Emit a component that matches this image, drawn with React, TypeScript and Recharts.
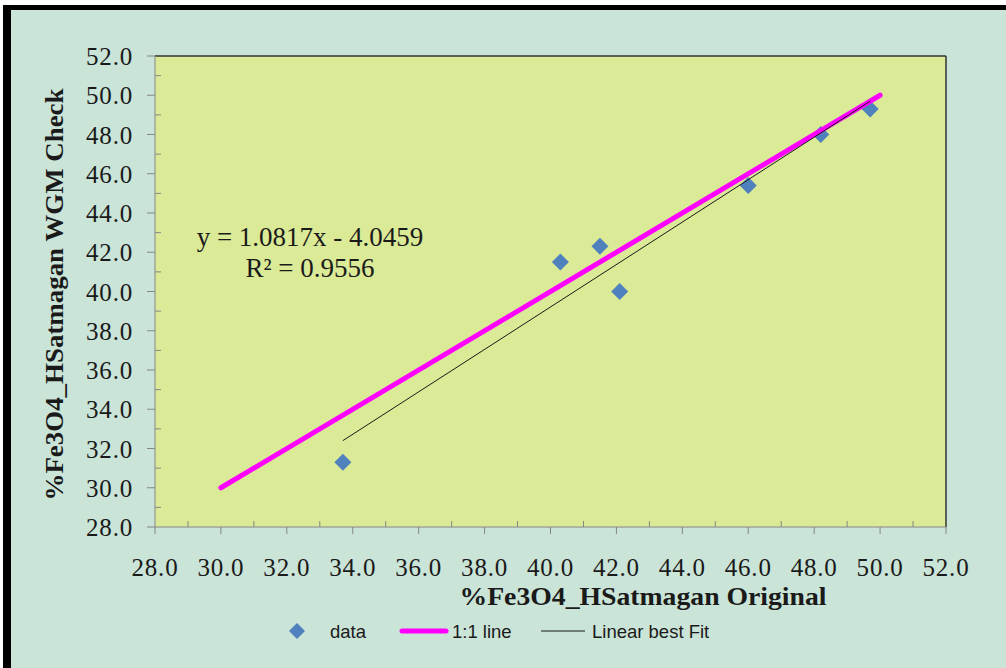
import { ScatterChart, Scatter, XAxis, YAxis, ReferenceArea, ReferenceLine, Label } from "recharts"

// measured values
const dataX = [33.7, 40.3, 41.5, 42.1, 46.0, 48.2, 49.7]
const dataY = [31.3, 41.5, 42.3, 40.0, 45.4, 48.0, 49.3]
const oneToOneX = [30, 50]
const oneToOneY = [30, 50]
const fitX = [33.7, 49.7]
const fitY = [32.4, 49.7]
const axisTicks = [28, 29, 30, 31, 32, 33, 34, 35, 36, 37, 38, 39, 40, 41, 42, 43, 44, 45, 46, 47, 48, 49, 50, 51, 52]

const points = dataX.map((x, i) => ({ x, y: dataY[i] }))
const oneToOne = oneToOneX.map((x, i) => ({ x, y: oneToOneY[i] }))
const fit = fitX.map((x, i) => ({ x, y: fitY[i] }))

const serif = "'Liberation Serif', 'Times New Roman', serif"
const sans = "'Liberation Sans', Arial, sans-serif"
const axisGrey = "#868686"

const XTick = (props: any) => {
  const { x, y, payload } = props
  const v = payload.value
  const major = v % 2 === 0
  return (
    <g>
      <line x1={x} x2={x} y1={major ? y : y - 6} y2={major ? y + 7 : y} stroke={axisGrey} />
      {major && (
        <text x={x} y={y + 49} textAnchor="middle" fontFamily={serif} fontSize={25} letterSpacing={0.8} fill="#1a1a1a">
          {v.toFixed(1)}
        </text>
      )}
    </g>
  )
}

const YTick = (props: any) => {
  const { x, y, payload } = props
  const v = payload.value
  const major = v % 2 === 0
  return (
    <g>
      <line x1={major ? x - 8 : x} x2={major ? x : x + 6} y1={y} y2={y} stroke={axisGrey} />
      {major && (
        <text x={x - 22} y={y + 9} textAnchor="end" fontFamily={serif} fontSize={25} letterSpacing={0.8} fill="#1a1a1a">
          {v.toFixed(1)}
        </text>
      )}
    </g>
  )
}

const Diamond = (props: any) => {
  const { cx, cy } = props
  const r = 8.5
  return <polygon points={`${cx},${cy - r} ${cx + r},${cy} ${cx},${cy + r} ${cx - r},${cy}`} fill="#4F81BD" />
}

const Empty = () => <g />

const App = () => {
  return (
    <div style={{ position: "absolute", left: 0, top: 0, width: 1006, height: 668, background: "#fff", overflow: "hidden" }}>
      <div
        style={{
          position: "absolute",
          left: 3,
          top: 5,
          width: 1006,
          height: 668,
          background: "#CAE4D8",
          borderTop: "5px solid #000",
          borderLeft: "8px solid #000",
        }}
      />
      <div style={{ position: "absolute", left: 0, top: 0 }}>
        <ScatterChart width={1006} height={668} margin={{ top: 56, right: 60, bottom: 41, left: 55 }}>
          <XAxis
            type="number"
            dataKey="x"
            domain={[28, 52]}
            ticks={axisTicks}
            interval={0}
            tickSize={0}
            tickMargin={0}
            tickLine={false}
            tick={<XTick />}
            stroke={axisGrey}
            height={100}
          >
            <Label
              content={(p: any) => (
                <text
                  x={p.viewBox.x + 488}
                  y={p.viewBox.y + 78}
                  textAnchor="middle"
                  fontFamily={serif}
                  fontWeight="bold"
                  fontSize={25}
                  fill="#1a1a1a"
                  textLength={367}
                  lengthAdjust="spacingAndGlyphs"
                >
                  %Fe3O4_HSatmagan  Original
                </text>
              )}
            />
          </XAxis>
          <YAxis
            type="number"
            dataKey="y"
            domain={[28, 52]}
            ticks={axisTicks}
            interval={0}
            tickSize={0}
            tickMargin={0}
            tickLine={false}
            tick={<YTick />}
            stroke={axisGrey}
            width={100}
          >
            <Label
              content={(p: any) => {
                const cx = p.viewBox.x + 8
                const cy = p.viewBox.y + p.viewBox.height / 2 + 3
                return (
                  <text
                    x={cx}
                    y={cy}
                    transform={`rotate(-90, ${cx}, ${cy})`}
                    textAnchor="middle"
                    fontFamily={serif}
                    fontWeight="bold"
                    fontSize={25}
                    fill="#1a1a1a"
                    textLength={412}
                    lengthAdjust="spacingAndGlyphs"
                  >
                    %Fe3O4_HSatmagan WGM Check
                  </text>
                )
              }}
            />
          </YAxis>
          <ReferenceArea x1={28} x2={52} y1={28} y2={52} fill="#DBEA96" fillOpacity={1} stroke="none" />
          <ReferenceLine y={52} stroke="#333" strokeWidth={1.5} />
          <ReferenceLine x={52} stroke="#333" strokeWidth={1.5} />
          <Scatter name="data" data={points} shape={<Diamond />} isAnimationActive={false} />
          <Scatter
            name="1:1 line"
            data={oneToOne}
            line={{ stroke: "#FF00FF", strokeWidth: 5, strokeLinecap: "round" }}
            shape={<Empty />}
            isAnimationActive={false}
          />
          <Scatter
            name="Linear best Fit"
            data={fit}
            line={{ stroke: "#1a1a1a", strokeWidth: 1 }}
            shape={<Empty />}
            isAnimationActive={false}
          />
        </ScatterChart>
      </div>

      <div style={{ position: "absolute", left: 160, top: 222, width: 300, textAlign: "center", fontFamily: serif, fontSize: 27, lineHeight: "31px", color: "#1a1a1a" }}>
        <div>y = 1.0817x - 4.0459</div>
        <div>R² = 0.9556</div>
      </div>

      <svg style={{ position: "absolute", left: 0, top: 615 }} width={1006} height={32}>
        <polygon points="297,8 305,16 297,24 289,16" fill="#4F81BD" />
        <text x={330} y={23} fontFamily={sans} fontSize={18.5} fill="#1a1a1a">data</text>
        <line x1={402} x2={446} y1={16} y2={16} stroke="#FF00FF" strokeWidth={5} strokeLinecap="round" />
        <text x={452} y={23} fontFamily={sans} fontSize={18.5} fill="#1a1a1a">1:1 line</text>
        <line x1={541} x2={585} y1={16} y2={16} stroke="#1a1a1a" strokeWidth={1} />
        <text x={592} y={23} fontFamily={sans} fontSize={18.5} fill="#1a1a1a">Linear best Fit</text>
      </svg>
    </div>
  )
}

export default App
